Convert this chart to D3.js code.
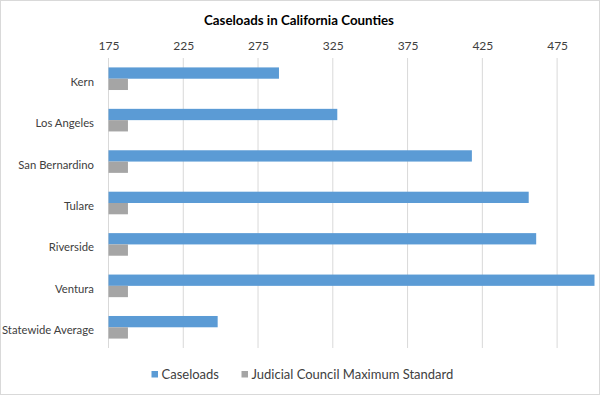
<!DOCTYPE html>
<html>
<head>
<meta charset="utf-8">
<script src="https://cdn.jsdelivr.net/npm/d3@7"></script>
<style>
  body { margin: 0; background: #fff; }
  svg { display: block; font-family: Lato, "Open Sans", sans-serif; }
</style>
</head>
<body>
<svg id="chart" width="600" height="395"></svg>
<script>
// chart values
var counties = ["Kern", "Los Angeles", "San Bernardino", "Tulare", "Riverside", "Ventura", "Statewide Average"];
var caseloads = [289, 328, 418, 456, 461, 500, 248];
var maxStandard = [188, 188, 188, 188, 188, 188, 188];
var seriesNames = ["Caseloads", "Judicial Council Maximum Standard"];
var seriesColors = ["#5b9bd5", "#a5a5a5"];
var tickValues = [175, 225, 275, 325, 375, 425, 475];

var svg = d3.select("#chart");

// light frame round the chart
svg.append("rect")
    .attr("x", 0.5).attr("y", 0.5)
    .attr("width", 599).attr("height", 394)
    .style("fill", "white")
    .style("stroke", "#d9d9d9");

var x = d3.scaleLinear().domain([175, 500]).range([108.5, 594.5]);
var y = d3.scaleBand().domain(counties).range([58, 348]).paddingInner(0).paddingOuter(0);
var barH = 11.3;

// gridlines
svg.selectAll(".grid")
    .data(tickValues)
    .enter()
    .append("line")
    .attr("class", "grid")
    .attr("x1", function (d) { return x(d) }).attr("x2", function (d) { return x(d) })
    .attr("y1", 58).attr("y2", 348)
    .style("stroke", "#d9d9d9")
    .style("stroke-width", 1);

// top axis labels
var axis = d3.axisTop(x).tickValues(tickValues).tickSize(0).tickPadding(0);
var gAxis = svg.append("g").attr("transform", "translate(0,50)").call(axis);
gAxis.select(".domain").remove();
gAxis.selectAll("text")
    .style("font-size", "12px")
    .style("fill", "#404040")
    .style("font-family", "Lato, 'Open Sans', sans-serif");

// left axis line
svg.append("line")
    .attr("x1", x(175)).attr("x2", x(175))
    .attr("y1", 58).attr("y2", 348)
    .style("stroke", "#d9d9d9");

// category labels
svg.selectAll(".cat")
    .data(counties)
    .enter()
    .append("text")
    .attr("class", "cat")
    .attr("x", 94)
    .attr("y", function (d) { return y(d) + y.bandwidth() / 2 + 3 })
    .attr("dy", "0.35em")
    .attr("text-anchor", "end")
    .style("font-size", "11.3px")
    .style("fill", "#404040")
    .text(function (d) { return d });

// caseload bars
svg.selectAll(".caseload")
    .data(caseloads)
    .enter()
    .append("rect")
    .attr("class", "caseload")
    .attr("x", x(175))
    .attr("y", function (d, i) { return y(counties[i]) + y.bandwidth() / 2 - barH })
    .attr("width", function (d) { return x(d) - x(175) })
    .attr("height", barH)
    .style("fill", seriesColors[0]);

// standard bars
svg.selectAll(".standard")
    .data(maxStandard)
    .enter()
    .append("rect")
    .attr("class", "standard")
    .attr("x", x(175))
    .attr("y", function (d, i) { return y(counties[i]) + y.bandwidth() / 2 })
    .attr("width", function (d) { return x(d) - x(175) })
    .attr("height", barH)
    .style("fill", seriesColors[1]);

// title
svg.append("text")
    .attr("x", 299).attr("y", 25)
    .attr("text-anchor", "middle")
    .style("font-size", "13.3px")
    .style("font-weight", "bold")
    .style("fill", "#000")
    .text("Caseloads in California Counties");

// legend
var legendX = [151.5, 241.5];
var legend = svg.selectAll(".legend")
    .data(seriesNames)
    .enter()
    .append("g")
    .attr("class", "legend")
    .attr("transform", function (d, i) { return "translate(" + legendX[i] + ",371)" });
legend.append("rect")
    .attr("width", 6.5).attr("height", 6.5)
    .style("fill", function (d, i) { return seriesColors[i] });
legend.append("text")
    .attr("x", 10).attr("y", 3.5)
    .attr("dy", "0.35em")
    .style("font-size", "13px")
    .style("fill", "#404040")
    .text(function (d) { return d });
</script>
</body>
</html>
